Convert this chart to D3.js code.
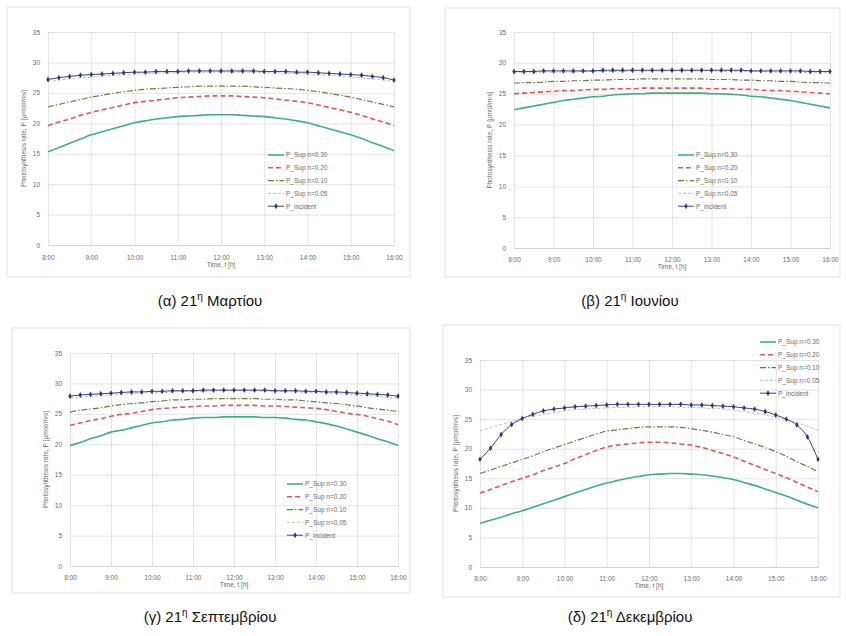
<!DOCTYPE html>
<html>
<head>
<meta charset="utf-8">
<script src="https://cdn.jsdelivr.net/npm/d3@7"></script>
<style>
  body { margin: 0; background: #fff; }
  .tick text { fill: #6b6b6b; font-family: "Liberation Sans", Arial, sans-serif; }
  .grid line { stroke: #e3e3e3; }
  .grid path { display: none; }
</style>
</head>
<body>
<div id="chart"></div>
<script>
// time axis, 15 min steps
var hours = [8, 8.25, 8.5, 8.75, 9, 9.25, 9.5, 9.75, 10, 10.25, 10.5, 10.75, 11, 11.25, 11.5, 11.75,
  12, 12.25, 12.5, 12.75, 13, 13.25, 13.5, 13.75, 14, 14.25, 14.5, 14.75, 15, 15.25, 15.5, 15.75, 16];
var xTicks = [8, 9, 10, 11, 12, 13, 14, 15, 16];
var xTickLabels = ["8:00", "9:00", "10:00", "11:00", "12:00", "13:00", "14:00", "15:00", "16:00"];
var yTicks = [0, 5, 10, 15, 20, 25, 30, 35];
var seriesNames = ["P_Sup n=0.30", "P_Sup n=0.20", "P_Sup n=0.10", "P_Sup n=0.05", "P_incident"];
var captions = ["(α) 21", "(β) 21", "(γ) 21", "(δ) 21"];
var captionEnds = [" Μαρτίου", " Ιουνίου", " Σεπτεμβρίου", " Δεκεμβρίου"];

// 21 March
var marA = [15.3,16.0,16.7,17.4,18.1,18.6,19.1,19.6,20.1,20.4,20.7,20.9,21.1,21.2,21.3,21.4,21.4,21.4,21.3,21.2,21.1,20.9,20.7,20.4,20.1,19.6,19.1,18.6,18.1,17.5,16.8,16.2,15.5];
var marB = [19.6,20.2,20.7,21.3,21.8,22.2,22.6,23.0,23.4,23.6,23.8,24.0,24.2,24.3,24.4,24.5,24.5,24.5,24.4,24.3,24.2,24.0,23.8,23.6,23.4,23.0,22.6,22.2,21.8,21.3,20.7,20.2,19.6];
var marC = [22.7,23.1,23.5,23.9,24.3,24.6,24.9,25.2,25.4,25.6,25.7,25.8,25.9,26.0,26.1,26.1,26.1,26.1,26.1,26.0,25.9,25.8,25.7,25.6,25.4,25.2,24.9,24.6,24.3,23.9,23.5,23.1,22.7];
var marD = [26.9,27.1,27.3,27.5,27.6,27.8,27.9,28.0,28.1,28.2,28.2,28.3,28.3,28.4,28.4,28.4,28.4,28.4,28.4,28.4,28.3,28.3,28.2,28.2,28.1,28.0,27.9,27.8,27.6,27.5,27.3,27.1,26.9];
var marInc = [27.2,27.5,27.7,27.9,28.0,28.1,28.2,28.3,28.4,28.4,28.5,28.5,28.5,28.6,28.6,28.6,28.6,28.6,28.6,28.6,28.5,28.5,28.5,28.4,28.4,28.3,28.2,28.1,28.0,27.9,27.7,27.5,27.1];

// 21 June
var junA = [22.4,22.7,23.0,23.3,23.6,23.9,24.1,24.3,24.5,24.6,24.8,24.9,25.0,25.0,25.1,25.1,25.1,25.1,25.1,25.1,25.0,25.0,24.9,24.8,24.6,24.5,24.3,24.1,23.9,23.6,23.3,23.0,22.7];
var junB = [25.0,25.1,25.2,25.3,25.4,25.5,25.5,25.6,25.7,25.7,25.8,25.8,25.8,25.9,25.9,25.9,25.9,25.9,25.9,25.9,25.8,25.8,25.8,25.7,25.7,25.6,25.5,25.5,25.4,25.3,25.2,25.1,25.0];
var junC = [26.7,26.8,26.8,26.9,27.0,27.0,27.1,27.1,27.2,27.2,27.3,27.3,27.3,27.4,27.4,27.4,27.4,27.4,27.4,27.4,27.3,27.3,27.3,27.2,27.2,27.1,27.1,27.0,27.0,26.9,26.8,26.8,26.7];
var junD = [28.4,28.4,28.4,28.5,28.5,28.5,28.5,28.6,28.6,28.6,28.6,28.6,28.7,28.7,28.7,28.7,28.7,28.7,28.7,28.7,28.7,28.6,28.6,28.6,28.6,28.6,28.5,28.5,28.5,28.5,28.4,28.4,28.4];
var junInc = [28.6,28.6,28.6,28.7,28.7,28.7,28.7,28.7,28.7,28.8,28.8,28.8,28.8,28.8,28.8,28.8,28.8,28.8,28.8,28.8,28.8,28.8,28.8,28.8,28.7,28.7,28.7,28.7,28.7,28.7,28.6,28.6,28.6];

// 21 September
var sepA = [19.8,20.3,20.9,21.4,22.0,22.3,22.7,23.1,23.5,23.7,24.0,24.1,24.3,24.4,24.4,24.5,24.5,24.5,24.5,24.4,24.4,24.3,24.1,24.0,23.7,23.4,23.0,22.5,22.0,21.5,20.9,20.4,19.8];
var sepB = [23.1,23.5,23.9,24.2,24.6,24.9,25.1,25.4,25.7,25.9,26.0,26.1,26.2,26.3,26.3,26.4,26.4,26.4,26.4,26.3,26.3,26.2,26.1,26.0,25.9,25.7,25.4,25.1,24.9,24.6,24.2,23.8,23.2];
var sepC = [25.3,25.6,25.8,26.0,26.3,26.5,26.7,26.8,27.0,27.1,27.3,27.3,27.4,27.4,27.5,27.5,27.5,27.5,27.5,27.4,27.4,27.3,27.3,27.1,27.0,26.8,26.7,26.5,26.3,26.0,25.8,25.6,25.4];
var sepD = [27.6,27.7,27.9,28.0,28.1,28.2,28.3,28.4,28.5,28.5,28.6,28.7,28.7,28.7,28.8,28.8,28.8,28.8,28.8,28.7,28.7,28.7,28.6,28.5,28.5,28.4,28.3,28.2,28.1,28.0,27.9,27.7,27.6];
var sepInc = [27.9,28.1,28.2,28.3,28.4,28.5,28.6,28.6,28.7,28.7,28.8,28.8,28.8,28.9,28.9,28.9,28.9,28.9,28.9,28.9,28.8,28.8,28.8,28.7,28.7,28.6,28.6,28.5,28.4,28.3,28.2,28.1,27.9];

// 21 December
var decA = [7.4,7.9,8.4,9.0,9.5,10.1,10.7,11.3,11.9,12.5,13.1,13.7,14.2,14.6,15.0,15.3,15.6,15.7,15.8,15.8,15.7,15.6,15.4,15.1,14.8,14.3,13.8,13.2,12.6,12.0,11.3,10.6,10.0];
var decB = [12.5,13.1,13.8,14.4,15.0,15.6,16.3,16.9,17.5,18.3,19.0,19.7,20.3,20.6,20.8,21.0,21.1,21.1,21.0,20.8,20.6,20.2,19.7,19.2,18.6,17.9,17.2,16.5,15.8,15.1,14.3,13.5,12.7];
var decC = [15.8,16.4,17.0,17.6,18.2,18.8,19.5,20.1,20.7,21.3,21.9,22.5,23.0,23.2,23.4,23.6,23.7,23.7,23.7,23.6,23.4,23.1,22.8,22.4,22.0,21.4,20.8,20.2,19.5,18.7,17.8,17.0,16.1];
var decD = [23.0,23.6,24.1,24.6,25.1,25.5,25.8,26.1,26.4,26.6,26.7,26.8,26.9,27.0,27.0,27.1,27.1,27.1,27.1,27.0,27.0,26.9,26.8,26.7,26.5,26.3,26.0,25.7,25.3,24.9,24.4,23.8,23.1];
var decInc = [18.2,20.1,22.4,24.1,25.1,25.8,26.4,26.7,26.9,27.1,27.2,27.3,27.4,27.5,27.5,27.5,27.5,27.5,27.5,27.5,27.4,27.4,27.3,27.2,27.1,26.9,26.7,26.3,25.7,25.0,24.0,22.0,18.2];

var styles = [
  { color: "#3fae86", width: 1.6, dash: null },
  { color: "#e0575a", width: 1.6, dash: "5,3" },
  { color: "#6d7a3c", width: 1.2, dash: "6,2,1.5,2" },
  { color: "#c9bfa0", width: 1, dash: "3,2" },
  { color: "#34447f", width: 1, dash: null }
];

var panels = [
  { data: [marA, marB, marC, marD, marInc], box: [7, 7, 410, 277], plot: [48, 394, 32, 245], legend: [268, 155], axisY: 258, capX: 210, capY: 306 },
  { data: [junA, junB, junC, junD, junInc], box: [445, 8, 840, 277], plot: [514, 830, 32, 248], legend: [678, 155], axisY: 260, capX: 630, capY: 306 },
  { data: [sepA, sepB, sepC, sepD, sepInc], box: [12, 328, 410, 593], plot: [70, 398, 353, 566], legend: [287, 484], axisY: 578, capX: 210, capY: 622 },
  { data: [decA, decB, decC, decD, decInc], box: [443, 325, 840, 597], plot: [480, 818, 360, 567], legend: [760, 342], axisY: 579, capX: 630, capY: 622 }
];

var svg = d3.select("#chart").append("svg")
  .attr("width", 846)
  .attr("height", 636)
  .style("font-family", "Liberation Sans, Arial, sans-serif");

panels.forEach(function(p, pi) {
  var g = svg.append("g");

  g.append("rect")
    .attr("x", p.box[0]).attr("y", p.box[1])
    .attr("width", p.box[2] - p.box[0]).attr("height", p.box[3] - p.box[1])
    .attr("fill", "#fff").attr("stroke", "#e2e2e2");

  var x = d3.scaleLinear().domain([8, 16]).range([p.plot[0], p.plot[1]]);
  var y = d3.scaleLinear().domain([0, 35]).range([p.plot[3], p.plot[2]]);
  var h = p.plot[3] - p.plot[2];
  var w = p.plot[1] - p.plot[0];

  // gridlines
  g.append("g").attr("class", "grid")
    .attr("transform", "translate(0," + p.plot[3] + ")")
    .call(d3.axisBottom(x).tickValues(xTicks).tickSize(-h).tickFormat(""));
  g.append("g").attr("class", "grid")
    .attr("transform", "translate(" + p.plot[0] + ",0)")
    .call(d3.axisLeft(y).tickValues(yTicks).tickSize(-w).tickFormat(""))
    .selectAll("line").attr("stroke", "#efefef");

  // tick labels
  var xa = g.append("g")
    .attr("transform", "translate(0," + p.plot[3] + ")")
    .call(d3.axisBottom(x).tickValues(xTicks).tickSize(0).tickPadding(p.axisY - p.plot[3] - 3)
      .tickFormat(function(d, i) { return xTickLabels[i]; }));
  xa.select(".domain").attr("stroke", "#d0d0d0");
  xa.selectAll("text").style("font-size", "6.5px");

  var ya = g.append("g")
    .attr("transform", "translate(" + p.plot[0] + ",0)")
    .call(d3.axisLeft(y).tickValues(yTicks).tickSize(0).tickPadding(8));
  ya.select(".domain").remove();
  ya.selectAll("text").style("font-size", "6.5px");

  // axis titles
  g.append("text")
    .attr("x", (p.plot[0] + p.plot[1]) / 2).attr("y", p.axisY + 9)
    .attr("text-anchor", "middle")
    .style("font-size", "6.5px").attr("fill", "#6b6b6b")
    .text("Time, t [h]");
  g.append("text")
    .attr("transform", "translate(" + (p.plot[0] - 22) + "," + ((p.plot[2] + p.plot[3]) / 2) + ") rotate(-90)")
    .attr("text-anchor", "middle")
    .style("font-size", "6.5px").attr("fill", "#6b6b6b")
    .text("Photosynthesis rate, P [μmol/m²s]");

  // series
  var line = d3.line()
    .x(function(d, i) { return x(hours[i]); })
    .y(function(d) { return y(d); })
    .curve(d3.curveMonotoneX);

  p.data.forEach(function(vals, si) {
    var s = styles[si];
    g.append("path")
      .datum(vals)
      .attr("fill", "none")
      .attr("stroke", s.color)
      .attr("stroke-width", s.width)
      .attr("stroke-dasharray", s.dash)
      .attr("d", line);
    if (si === 4) {
      g.selectAll(".mk" + pi)
        .data(vals)
        .enter().append("path")
        .attr("class", "mk" + pi)
        .attr("transform", function(d, i) { return "translate(" + x(hours[i]) + "," + y(d) + ")"; })
        .attr("d", d3.symbol().type(d3.symbolDiamond).size(10))
        .attr("fill", "#2b3a70");
    }
  });

  // legend
  var lg = g.append("g").attr("transform", "translate(" + p.legend[0] + "," + p.legend[1] + ")");
  seriesNames.forEach(function(name, si) {
    var s = styles[si];
    var row = lg.append("g").attr("transform", "translate(0," + (si * 12.8) + ")");
    row.append("line")
      .attr("x1", 0).attr("x2", 16).attr("y1", 0).attr("y2", 0)
      .attr("stroke", s.color).attr("stroke-width", s.width)
      .attr("stroke-dasharray", s.dash);
    if (si === 4) {
      row.append("path").attr("transform", "translate(8,0)")
        .attr("d", d3.symbol().type(d3.symbolDiamond).size(10)).attr("fill", "#2b3a70");
    }
    row.append("text")
      .attr("x", 18).attr("y", 2.3)
      .style("font-size", "6.5px").attr("fill", "#6b6b6b")
      .text(name);
  });

  // caption
  var cap = svg.append("text")
    .attr("x", p.capX).attr("y", p.capY)
    .attr("text-anchor", "middle")
    .style("font-size", "15px").attr("fill", "#111");
  cap.append("tspan").text(captions[pi]);
  cap.append("tspan").attr("dy", -6).style("font-size", "10px").text("η");
  cap.append("tspan").attr("dy", 6).text(captionEnds[pi]);
});
</script>
</body>
</html>
